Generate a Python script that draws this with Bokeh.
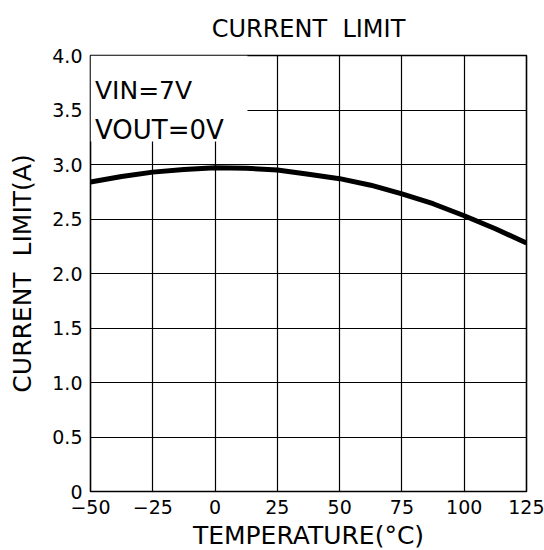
from bokeh.plotting import figure
from bokeh.models import FixedTicker, Title, ColumnDataSource
from bokeh.core.properties import value
from bokeh.embed import file_html
from bokeh.resources import INLINE

# Data
temperature = [-50, -37.5, -25, -12.5, 0, 12.5, 25, 37.5, 50, 62.5, 75, 87.5, 100, 112.5, 125]
current_limit = [2.84, 2.89, 2.93, 2.955, 2.97, 2.965, 2.95, 2.91, 2.87, 2.81, 2.73, 2.64, 2.53, 2.41, 2.28]

x_ticks = [-50, -25, 0, 25, 50, 75, 100, 125]
x_tick_labels = ["\u221250", "\u221225", "0", "25", "50", "75", "100", "125"]
y_ticks = [0, 0.5, 1.0, 1.5, 2.0, 2.5, 3.0, 3.5, 4.0]
y_tick_labels = ["0", "0.5", "1.0", "1.5", "2.0", "2.5", "3.0", "3.5", "4.0"]
notes = ["VIN=7V", "VOUT=0V"]
note_x = [-48.2, -48.2]
note_y = [3.68, 3.32]
box_bounds = dict(left=-50, right=13.0, bottom=3.21, top=4.0)

FONT = "DejaVu Sans"

p = figure(width=544, height=550, output_backend="svg", toolbar_location=None,
           x_range=(-50, 125), y_range=(0, 4),
           frame_width=436, frame_height=436,
           min_border_left=90, min_border_right=18, min_border_top=54, min_border_bottom=60)

p.title = Title(text="CURRENT\u00a0\u00a0LIMIT", align="center", text_font=FONT,
                text_font_size="24px", text_font_style="normal", text_color="black",
                standoff=25, text_line_height=0.8)

p.xaxis.ticker = FixedTicker(ticks=x_ticks)
p.yaxis.ticker = FixedTicker(ticks=y_ticks)
p.xaxis.major_label_overrides = {t: l for t, l in zip(x_ticks, x_tick_labels)}
p.yaxis.major_label_overrides = {t: l for t, l in zip(y_ticks, y_tick_labels)}

for ax in (p.xaxis, p.yaxis):
    ax.axis_line_color = None
    ax.major_tick_line_color = None
    ax.minor_tick_line_color = None
    ax.major_tick_out = 0
    ax.major_tick_in = 0
    ax.minor_tick_out = 0
    ax.major_label_text_font = FONT
    ax.major_label_text_font_size = "19px"
    ax.major_label_text_color = "black"
    ax.axis_label_text_font = FONT
    ax.axis_label_text_font_size = "25px"
    ax.axis_label_text_font_style = "normal"
    ax.axis_label_text_color = "black"

p.xaxis.axis_label = "TEMPERATURE(\u00b0C)"
p.yaxis.axis_label = "CURRENT\u00a0\u00a0LIMIT(A)"
p.xaxis.major_label_standoff = 8
p.yaxis.major_label_standoff = 8
p.xaxis.axis_label_standoff = 4
p.yaxis.axis_label_standoff = 12

p.grid.grid_line_color = "black"
p.grid.grid_line_width = 1.2
p.grid.grid_line_alpha = 1.0
p.xgrid.ticker = FixedTicker(ticks=x_ticks)
p.ygrid.ticker = FixedTicker(ticks=y_ticks)

p.outline_line_color = "black"
p.outline_line_width = 1.6
p.background_fill_color = "white"
p.border_fill_color = "white"

# white backing behind the conditions note (hides grid there)
p.quad(left=[box_bounds["left"]], right=[box_bounds["right"]],
       bottom=[box_bounds["bottom"]], top=[box_bounds["top"]],
       fill_color="white", line_color=None)

p.line(temperature, current_limit, line_color="black", line_width=5)

src = ColumnDataSource(dict(x=note_x, y=note_y, text=notes, size=["25px", "26px"]))
p.text(x="x", y="y", text="text", source=src, text_font=value(FONT),
       text_font_size="size", text_color="black", text_baseline="alphabetic",
       text_align="left")

open("out.html", "w").write(file_html(p, INLINE))
